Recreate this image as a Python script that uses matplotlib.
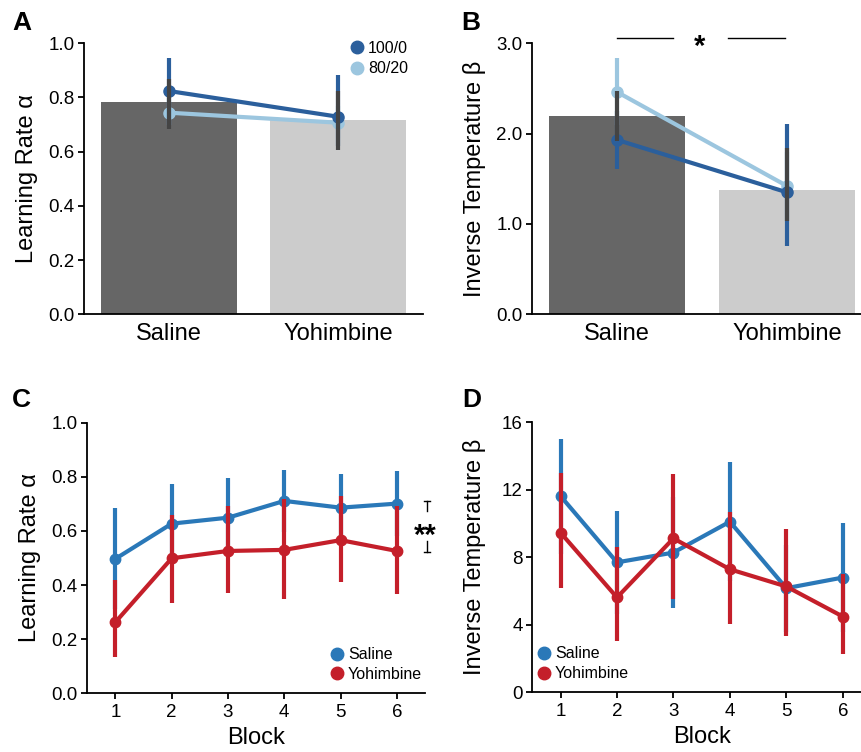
import numpy as np
import matplotlib
matplotlib.use("Agg")
import matplotlib.pyplot as plt
from matplotlib.lines import Line2D

plt.rcParams['font.family'] = ['Liberation Sans', 'DejaVu Sans']

# ---------------- data ----------------
conditions = ['Saline', 'Yohimbine']

# Panel A: learning rate
bar_alpha = [0.783, 0.718]
bar_alpha_lo = [0.683, 0.606]
bar_alpha_hi = [0.870, 0.824]
alpha_100 = [0.824, 0.729]
alpha_100_lo = [0.700, 0.620]
alpha_100_hi = [0.947, 0.883]
alpha_80 = [0.744, 0.707]
alpha_80_lo = [0.700, 0.650]
alpha_80_hi = [0.800, 0.770]

# Panel B: inverse temperature
bar_beta = [2.19, 1.38]
bar_beta_lo = [1.92, 1.03]
bar_beta_hi = [2.47, 1.84]
beta_100 = [1.93, 1.35]
beta_100_lo = [1.61, 0.76]
beta_100_hi = [2.25, 2.11]
beta_80 = [2.46, 1.42]
beta_80_lo = [2.10, 1.05]
beta_80_hi = [2.84, 1.80]

# Panel C: learning rate by block
blocks = [1, 2, 3, 4, 5, 6]
alpha_sal = [0.497, 0.627, 0.649, 0.711, 0.686, 0.701]
alpha_sal_lo = [0.311, 0.479, 0.503, 0.596, 0.560, 0.582]
alpha_sal_hi = [0.683, 0.775, 0.795, 0.826, 0.812, 0.820]
alpha_yoh = [0.263, 0.499, 0.526, 0.530, 0.566, 0.526]
alpha_yoh_lo = [0.134, 0.332, 0.369, 0.349, 0.412, 0.366]
alpha_yoh_hi = [0.417, 0.658, 0.693, 0.717, 0.730, 0.693]

# Panel D: inverse temperature by block
beta_sal = [11.63, 7.70, 8.28, 10.11, 6.17, 6.80]
beta_sal_lo = [8.20, 4.64, 4.99, 6.57, 3.60, 3.60]
beta_sal_hi = [15.03, 10.76, 11.57, 13.65, 8.70, 10.01]
beta_yoh = [9.46, 5.62, 9.12, 7.29, 6.27, 4.49]
beta_yoh_lo = [6.17, 3.05, 5.54, 4.04, 3.35, 2.27]
beta_yoh_hi = [12.97, 8.63, 12.93, 10.70, 9.66, 7.00]

# ---------------- style ----------------
C_BAR = ['#666666', '#cccccc']
C_ERR = '#444444'
C_100 = '#2b5f9c'
C_80 = '#9cc6df'
C_SAL = '#2a78b8'
C_YOH = '#c41f2a'
LW = 3.0
TICK_FS = 13.5
CAT_FS = 17
LAB_FS = 17
LEG_FS = 11.5

W, H = 862, 752
fig = plt.figure(figsize=(W / 100, H / 100), dpi=100)


def px_axes(l, r, t, b):
    return fig.add_axes([l / W, 1 - b / H, (r - l) / W, (b - t) / H])


def style(ax, xticks_marks=True):
    for s in ['top', 'right']:
        ax.spines[s].set_visible(False)
    for s in ['left', 'bottom']:
        ax.spines[s].set_linewidth(1.3)
    ax.tick_params(axis='y', direction='out', length=4, width=1.3, labelsize=TICK_FS, pad=3)
    if xticks_marks:
        ax.tick_params(axis='x', direction='out', length=4, width=1.3, labelsize=TICK_FS, pad=4)
    else:
        ax.tick_params(axis='x', length=0, labelsize=CAT_FS, pad=6)


def err(ax, x, y, lo, hi, color, z, marker='o', ms=8, line=True):
    y = np.asarray(y); lo = np.asarray(lo); hi = np.asarray(hi)
    ax.errorbar(x, y, yerr=[y - lo, hi - y], fmt='none', ecolor=color,
                elinewidth=LW, capsize=0, zorder=z)
    if line:
        ax.plot(x, y, color=color, lw=LW, marker=marker, ms=ms, zorder=z + 0.1,
                solid_capstyle='round')


xcat = np.arange(len(conditions))

# ---------------- Panel A ----------------
axA = px_axes(84, 423, 43.3, 314.3)
axA.bar(xcat, bar_alpha, width=0.8, color=C_BAR, zorder=1)
err(axA, xcat, alpha_80, alpha_80_lo, alpha_80_hi, C_80, 2)
err(axA, xcat, alpha_100, alpha_100_lo, alpha_100_hi, C_100, 3)
axA.errorbar(xcat, bar_alpha, yerr=[np.array(bar_alpha) - bar_alpha_lo,
             np.array(bar_alpha_hi) - bar_alpha], fmt='none', ecolor=C_ERR,
             elinewidth=LW, zorder=5)
axA.set_xlim(-0.5, 1.5)
axA.set_ylim(0, 1.0)
axA.set_yticks([0, 0.2, 0.4, 0.6, 0.8, 1.0])
axA.set_yticklabels(['0.0', '0.2', '0.4', '0.6', '0.8', '1.0'])
axA.set_xticks(xcat)
axA.set_xticklabels(conditions)
style(axA, xticks_marks=False)
axA.set_ylabel('Learning Rate α', fontsize=LAB_FS)
axA.yaxis.set_label_coords(-0.137, 0.5)
hA = [Line2D([], [], marker='o', ls='none', color=C_100, ms=9),
      Line2D([], [], marker='o', ls='none', color=C_80, ms=9)]
axA.legend(hA, ['100/0', '80/20'], loc='upper left', bbox_to_anchor=(0.79, 1.01),
           frameon=False, fontsize=LEG_FS, handlelength=0.6, handletextpad=0.4,
           borderpad=0, borderaxespad=0, labelspacing=0.35)

# ---------------- Panel B ----------------
axB = px_axes(532.3, 872, 43.3, 314.3)
axB.bar(xcat, bar_beta, width=0.8, color=C_BAR, zorder=1)
err(axB, xcat, beta_80, beta_80_lo, beta_80_hi, C_80, 2)
err(axB, xcat, beta_100, beta_100_lo, beta_100_hi, C_100, 3)
axB.errorbar(xcat, bar_beta, yerr=[np.array(bar_beta) - bar_beta_lo,
             np.array(bar_beta_hi) - bar_beta], fmt='none', ecolor=C_ERR,
             elinewidth=LW, zorder=5)
axB.set_xlim(-0.5, 1.5)
axB.set_ylim(0, 3.0)
axB.set_yticks([0, 1, 2, 3])
axB.set_yticklabels(['0.0', '1.0', '2.0', '3.0'])
axB.set_xticks(xcat)
axB.set_xticklabels(conditions)
style(axB, xticks_marks=False)
axB.set_ylabel('Inverse Temperature β', fontsize=LAB_FS)
axB.yaxis.set_label_coords(-0.137, 0.5)
axB.plot([0.0, 0.33], [3.055, 3.055], color='black', lw=1.0, clip_on=False)
axB.plot([0.65, 0.99], [3.055, 3.055], color='black', lw=1.0, clip_on=False)
axB.text(0.485, 2.87, '*', ha='center', va='baseline', fontsize=21, fontweight='bold',
         clip_on=False)

# ---------------- Panel C ----------------
axC = px_axes(87.3, 425, 422.7, 693.3)
err(axC, blocks, alpha_sal, alpha_sal_lo, alpha_sal_hi, C_SAL, 2, ms=7.5)
err(axC, blocks, alpha_yoh, alpha_yoh_lo, alpha_yoh_hi, C_YOH, 3, ms=7.5)
axC.set_xlim(0.5, 6.5)
axC.set_ylim(0, 1.0)
axC.set_yticks([0, 0.2, 0.4, 0.6, 0.8, 1.0])
axC.set_yticklabels(['0.0', '0.2', '0.4', '0.6', '0.8', '1.0'])
axC.set_xticks(blocks)
style(axC)
axC.set_ylabel('Learning Rate α', fontsize=LAB_FS)
axC.yaxis.set_label_coords(-0.137, 0.5)
axC.set_xlabel('Block', fontsize=LAB_FS, labelpad=4)
hC = [Line2D([], [], marker='o', ls='none', color=C_SAL, ms=9),
      Line2D([], [], marker='o', ls='none', color=C_YOH, ms=9)]
axC.legend(hC, ['Saline', 'Yohimbine'], loc='upper left', bbox_to_anchor=(0.725, 0.17),
           frameon=False, fontsize=LEG_FS, handlelength=0.6, handletextpad=0.4,
           borderpad=0, borderaxespad=0, labelspacing=0.3)
# significance bracket
bx = 6.535
for y0, y1, cap in [(0.71, 0.672, 0.71), (0.562, 0.524, 0.524)]:
    axC.plot([bx, bx], [y0, y1], color='black', lw=1.0, clip_on=False)
    axC.plot([bx - 0.06, bx + 0.06], [cap, cap], color='black', lw=1.0, clip_on=False)
axC.text(bx - 0.03, 0.552, '**', ha='center', va='baseline', fontsize=21,
         fontweight='bold', clip_on=False)

# ---------------- Panel D ----------------
axD = px_axes(532.3, 871, 422.3, 692.3)
err(axD, blocks, beta_sal, beta_sal_lo, beta_sal_hi, C_SAL, 2, ms=7.5)
err(axD, blocks, beta_yoh, beta_yoh_lo, beta_yoh_hi, C_YOH, 3, ms=7.5)
axD.set_xlim(0.5, 6.5)
axD.set_ylim(0, 16)
axD.set_yticks([0, 4, 8, 12, 16])
axD.set_xticks(blocks)
style(axD)
axD.set_ylabel('Inverse Temperature β', fontsize=LAB_FS)
axD.yaxis.set_label_coords(-0.137, 0.5)
axD.set_xlabel('Block', fontsize=LAB_FS, labelpad=4)
axD.legend(hC, ['Saline', 'Yohimbine'], loc='upper left', bbox_to_anchor=(0.02, 0.17),
           frameon=False, fontsize=LEG_FS, handlelength=0.6, handletextpad=0.4,
           borderpad=0, borderaxespad=0, labelspacing=0.3)

# ---------------- panel letters ----------------
for lab, x, y in [('A', 12, 30), ('B', 461, 30), ('C', 12, 407), ('D', 462, 407)]:
    fig.text(x / W, 1 - y / H, lab, fontsize=19, fontweight='bold',
             ha='left', va='baseline')

fig.savefig('out.png', dpi=100)
